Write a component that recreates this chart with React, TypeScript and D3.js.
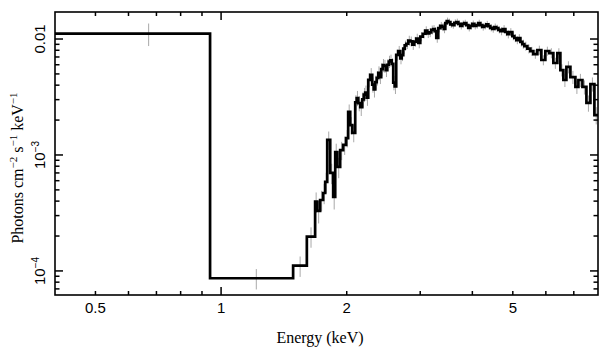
import React from "react";
import * as d3 from "d3";

// Bin edges (keV)
const binEdges: number[] = [
  0.400, 0.941, 1.488, 1.605, 1.680, 1.699, 1.727, 1.756, 1.776, 1.796, 1.826, 1.856, 1.877, 1.898,
  1.929, 1.961, 1.994, 2.016, 2.039, 2.062, 2.096,
  2.113, 2.131, 2.155, 2.179, 2.197, 2.215, 2.233, 2.252, 2.277, 2.302, 2.321, 2.341, 2.360, 2.380,
  2.399, 2.419, 2.439, 2.460, 2.480, 2.501, 2.522, 2.543, 2.564, 2.585, 2.606, 2.628, 2.657, 2.687,
  2.709, 2.732, 2.755, 2.778, 2.809, 2.840, 2.871, 2.903, 2.935, 2.968, 3.001, 3.043, 3.085, 3.119,
  3.153, 3.188, 3.224, 3.251, 3.278, 3.314, 3.351, 3.389, 3.417, 3.445, 3.474, 3.503, 3.542, 3.581,
  3.621, 3.661, 3.701, 3.742, 3.783, 3.825, 3.868, 3.911, 3.954, 3.998, 4.042, 4.087, 4.132, 4.178,
  4.224, 4.271, 4.319, 4.367, 4.415, 4.464, 4.513, 4.563, 4.615, 4.667, 4.732, 4.798, 4.851, 4.905,
  4.987, 5.042, 5.098, 5.155, 5.212, 5.270, 5.328, 5.417, 5.508, 5.600, 5.725, 5.853, 5.983, 6.117,
  6.253, 6.393, 6.500, 6.609, 6.720, 6.870, 7.062, 7.180, 7.341, 7.505, 7.672, 7.843, 8.000,
];

// Flux per bin (photons cm^-2 s^-1 keV^-1)
const binFlux: number[] = [
  0.01115, 8.65e-5, 1.11e-4, 1.98e-4, 3.96e-4, 3.29e-4, 4.09e-4, 4.70e-4, 5.85e-4, 1.35e-3,
  7.00e-4, 4.34e-4, 1.06e-3, 7.88e-4, 1.10e-3, 1.22e-3, 1.40e-3, 2.35e-3, 1.81e-3, 1.55e-3,
  2.85e-3, 3.10e-3, 2.80e-3, 2.58e-3, 3.02e-3, 3.32e-3, 3.45e-3, 3.12e-3, 4.45e-3, 4.92e-3,
  4.05e-3, 3.68e-3, 4.25e-3, 4.62e-3, 5.10e-3, 4.70e-3, 5.50e-3, 5.95e-3, 5.85e-3, 5.40e-3,
  6.00e-3, 6.40e-3, 6.55e-3, 6.10e-3, 4.20e-3, 3.90e-3, 7.30e-3, 7.85e-3, 6.80e-3, 7.25e-3,
  8.25e-3, 8.80e-3, 9.10e-3, 9.70e-3, 9.55e-3, 8.95e-3, 9.50e-3, 0.0101, 9.24e-3,
  0.0105, 0.0111, 0.0118, 0.0112, 0.0114, 0.0120, 0.0122, 0.0117, 0.0102,
  0.0124, 0.0130, 0.0127, 0.0122, 0.0137, 0.0143, 0.0140, 0.0134, 0.0132, 0.0138,
  0.0140, 0.0135, 0.0130, 0.0135, 0.0137, 0.0132, 0.0125, 0.0130, 0.0135, 0.0130,
  0.0132, 0.0137, 0.0132, 0.0127, 0.0130, 0.0134, 0.0129, 0.0125, 0.0122, 0.0127,
  0.0124, 0.0120, 0.0117, 0.0122, 0.0115, 0.0110, 0.01149,
  0.0106, 0.0102, 0.0098, 0.0102, 9.45e-3, 9.05e-3, 8.70e-3, 8.25e-3, 7.85e-3,
  7.42e-3, 8.04e-3, 6.59e-3, 7.88e-3, 7.57e-3, 6.21e-3, 7.57e-3, 5.40e-3, 4.43e-3, 5.74e-3,
  4.70e-3, 3.86e-3, 4.43e-3, 3.86e-3, 2.81e-3, 4.09e-3, 2.21e-3,
];

// Relative 1-sigma error per bin
const binErr: number[] = [
  0.22, 0.20, 0.20, 0.20, 0.20, 0.22, 0.20, 0.20, 0.20, 0.18,
  0.20, 0.22, 0.18, 0.20, 0.18, 0.18, 0.17, 0.16, 0.17, 0.17,
  0.15, 0.15, 0.15, 0.16, 0.15, 0.14, 0.15, 0.15, 0.14, 0.14,
  0.15, 0.15, 0.14, 0.14, 0.14, 0.13, 0.13, 0.13, 0.13, 0.13,
  0.12, 0.12, 0.12, 0.12, 0.14, 0.14, 0.11, 0.11, 0.11, 0.11,
  0.10, 0.10, 0.10, 0.10, 0.10, 0.10, 0.10, 0.10, 0.10,
  0.09, 0.09, 0.09, 0.09, 0.09, 0.09, 0.08, 0.08, 0.09,
  0.08, 0.08, 0.08, 0.08, 0.07, 0.07, 0.07, 0.07, 0.07, 0.07,
  0.07, 0.07, 0.07, 0.07, 0.07, 0.07, 0.07, 0.07, 0.07, 0.07,
  0.07, 0.07, 0.07, 0.07, 0.07, 0.07, 0.07, 0.07, 0.07, 0.07,
  0.07, 0.07, 0.08, 0.08, 0.08, 0.08, 0.08,
  0.08, 0.08, 0.08, 0.08, 0.09, 0.09, 0.09, 0.09, 0.09,
  0.09, 0.09, 0.10, 0.09, 0.10, 0.11, 0.10, 0.12, 0.13, 0.12,
  0.13, 0.13, 0.13, 0.14, 0.16, 0.14, 0.17,
];

const xTickLabels: number[] = [0.5, 1, 2, 5];
const xMajorTicks: number[] = [1];
const xMinorTicks: number[] = [0.5, 0.6, 0.7, 0.8, 0.9, 2, 3, 4, 5, 6, 7];
const yMajorTicks: number[] = [1e-4, 1e-3, 1e-2];
const yMinorTicks: number[] = [
  7e-5, 8e-5, 9e-5, 2e-4, 3e-4, 4e-4, 5e-4, 6e-4, 7e-4, 8e-4, 9e-4,
  2e-3, 3e-3, 4e-3, 5e-3, 6e-3, 7e-3, 8e-3, 9e-3,
];
const xDomain: [number, number] = [0.4, 8.0];
const yDomain: [number, number] = [6.2e-5, 0.0171];

export default function App() {
  const L = 55, R = 598, T = 12, B = 295;
  const x = d3.scaleLog().domain(xDomain).range([L, R]);
  const y = d3.scaleLog().domain(yDomain).range([B, T]);

  const pts: [number, number][] = [];
  binFlux.forEach((v, i) => {
    pts.push([binEdges[i], v]);
    pts.push([binEdges[i + 1], v]);
  });
  const line = d3
    .line<[number, number]>()
    .x((d) => x(d[0]))
    .y((d) => y(d[1]));
  const path = line(pts) || "";

  const tickSans = "'Liberation Sans', Arial, Helvetica, sans-serif";
  const serif = "'Liberation Serif', 'Times New Roman', serif";

  return (
    <svg
      width={609}
      height={357}
      style={{ position: "absolute", left: 0, top: 0, background: "#fff" }}
    >
      <rect x={0} y={0} width={609} height={357} fill="#fff" />
      <defs>
        <clipPath id="plotclip">
          <rect x={L} y={T} width={R - L} height={B - T} />
        </clipPath>
      </defs>
      <g clipPath="url(#plotclip)">
        {binFlux.map((v, i) => {
          const xc = (binEdges[i] + binEdges[i + 1]) / 2;
          const e = binErr[i];
          return (
            <line
              key={"e" + i}
              x1={x(xc)}
              x2={x(xc)}
              y1={y(v * (1 + e))}
              y2={y(v * (1 - e))}
              stroke="#a9a9a9"
              strokeWidth={1}
            />
          );
        })}
        <path d={path} fill="none" stroke="#000" strokeWidth={2.7} strokeLinejoin="miter" strokeLinecap="butt" />
      </g>
      {/* ticks */}
      <g stroke="#000" strokeWidth={1.5}>
        {xMajorTicks.map((t) => (
          <g key={"xm" + t}>
            <line x1={x(t)} x2={x(t)} y1={B} y2={B - 8} />
            <line x1={x(t)} x2={x(t)} y1={T} y2={T + 8} />
          </g>
        ))}
        {xMinorTicks.map((t) => (
          <g key={"xn" + t}>
            <line x1={x(t)} x2={x(t)} y1={B} y2={B - 4} />
            <line x1={x(t)} x2={x(t)} y1={T} y2={T + 4} />
          </g>
        ))}
        {yMajorTicks.map((t) => (
          <g key={"ym" + t}>
            <line x1={L} x2={L + 8} y1={y(t)} y2={y(t)} />
            <line x1={R} x2={R - 8} y1={y(t)} y2={y(t)} />
          </g>
        ))}
        {yMinorTicks.map((t) => (
          <g key={"yn" + t}>
            <line x1={L} x2={L + 4.5} y1={y(t)} y2={y(t)} />
            <line x1={R} x2={R - 4.5} y1={y(t)} y2={y(t)} />
          </g>
        ))}
      </g>
      <rect x={L} y={T} width={R - L} height={B - T} fill="none" stroke="#000" strokeWidth={1.6} />
      {/* x tick labels */}
      {xTickLabels.map((t) => (
        <text
          key={"xl" + t}
          x={x(t)}
          y={313}
          textAnchor="middle"
          fontFamily={tickSans}
          fontSize={15}
          fill="#000"
        >
          {String(t)}
        </text>
      ))}
      {/* y tick labels */}
      {yMajorTicks.map((t) => {
        const yy = y(t);
        if (t === 1e-2) {
          return (
            <text
              key={"yl" + t}
              transform={`translate(45,${yy}) rotate(-90)`}
              textAnchor="middle"
              fontFamily={tickSans}
              fontSize={15}
            >
              0.01
            </text>
          );
        }
        const exp = Math.round(Math.log10(t));
        return (
          <text
            key={"yl" + t}
            transform={`translate(45,${yy}) rotate(-90)`}
            textAnchor="middle"
            fontFamily={tickSans}
            fontSize={15}
          >
            10
            <tspan fontSize={10} dy={-6}>
              {"\u2212" + Math.abs(exp)}
            </tspan>
          </text>
        );
      })}
      {/* axis titles */}
      <text x={320} y={343} textAnchor="middle" fontFamily={serif} fontSize={16}>
        Energy (keV)
      </text>
      <text
        transform={`translate(23,${168}) rotate(-90)`}
        textAnchor="middle"
        fontFamily={serif}
        fontSize={16}
      >
        Photons cm
        <tspan fontSize={11} dy={-6}>{"\u22122"}</tspan>
        <tspan dy={6}> s</tspan>
        <tspan fontSize={11} dy={-6}>{"\u22121"}</tspan>
        <tspan dy={6}> keV</tspan>
        <tspan fontSize={11} dy={-6}>{"\u22121"}</tspan>
      </text>
    </svg>
  );
}
